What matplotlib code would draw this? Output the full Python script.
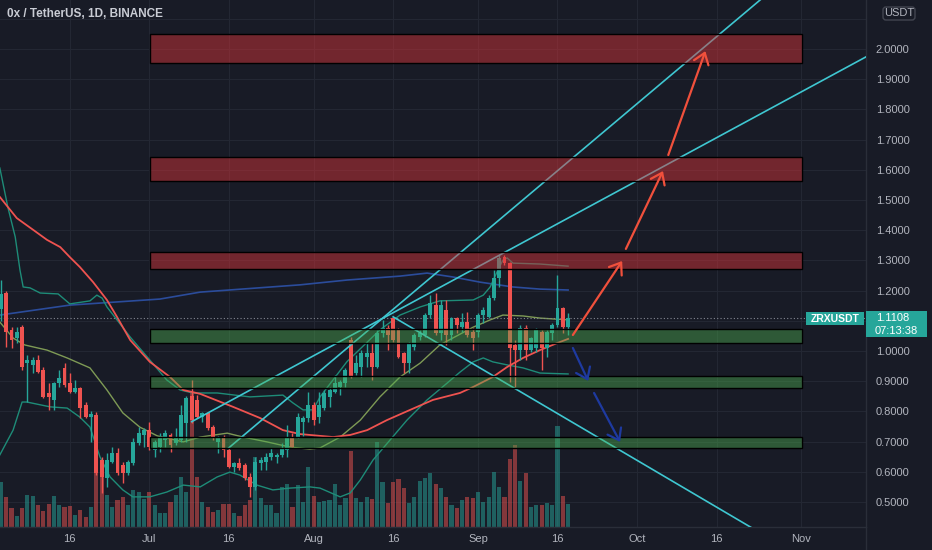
import matplotlib
matplotlib.use('Agg')
import matplotlib.pyplot as plt
from matplotlib.patches import Rectangle, FancyBboxPatch
from matplotlib.lines import Line2D
from matplotlib.transforms import IdentityTransform
import numpy as np

plt.rcParams['font.family'] = ['Liberation Sans', 'DejaVu Sans']

######## daily candles, day 0 = Jul 1 ########
days = np.arange(-28, 80)
opens = [1.140, 1.192, 1.070, 1.043, 1.080, 0.960, 0.954, 0.970, 0.937, 0.861,
         0.838, 0.894, 0.944, 0.894, 0.864, 0.877, 0.821, 0.780, 0.788, 0.639,
         0.579, 0.632, 0.662, 0.623, 0.596, 0.629, 0.695, 0.722, 0.738, 0.672,
         0.682, 0.705, 0.722, 0.695, 0.705, 0.762, 0.851, 0.838, 0.781, 0.795,
         0.748, 0.699, 0.715, 0.672, 0.616, 0.629, 0.623, 0.583, 0.550, 0.629,
         0.632, 0.649, 0.650, 0.656, 0.672, 0.715, 0.715, 0.765, 0.778, 0.821,
         0.781, 0.811, 0.848, 0.864, 0.881, 0.894, 1.035, 0.927, 0.947, 0.980,
         0.993, 0.947, 1.060, 1.076, 1.109, 1.070, 0.993, 0.960, 1.013, 1.046,
         1.053, 1.119, 1.152, 1.060, 1.136, 1.053, 1.109, 1.080, 1.096, 1.063,
         1.063, 1.119, 1.113, 1.175, 1.242, 1.311, 1.291, 1.020, 1.003, 1.076,
         1.003, 1.010, 1.063, 1.010, 1.060, 1.086, 1.142, 1.080]
highs = [1.235, 1.200, 1.080, 1.080, 1.086, 0.987, 0.980, 0.987, 0.947, 0.894,
         0.897, 0.937, 0.960, 0.927, 0.904, 0.881, 0.831, 0.800, 0.798, 0.649,
         0.662, 0.682, 0.679, 0.632, 0.639, 0.712, 0.748, 0.745, 0.765, 0.705,
         0.728, 0.738, 0.728, 0.745, 0.821, 0.851, 0.904, 0.854, 0.798, 0.798,
         0.755, 0.718, 0.722, 0.679, 0.632, 0.646, 0.629, 0.596, 0.649, 0.649,
         0.662, 0.679, 0.662, 0.695, 0.755, 0.728, 0.795, 0.785, 0.864, 0.831,
         0.864, 0.871, 0.881, 0.921, 0.904, 0.944, 1.046, 0.987, 1.003, 1.030,
         1.026, 1.070, 1.103, 1.086, 1.113, 1.076, 0.997, 1.030, 1.060, 1.070,
         1.126, 1.185, 1.192, 1.169, 1.169, 1.113, 1.113, 1.126, 1.129, 1.076,
         1.126, 1.146, 1.185, 1.268, 1.318, 1.318, 1.295, 1.036, 1.086, 1.086,
         1.046, 1.076, 1.070, 1.070, 1.093, 1.252, 1.146, 1.126]
lows = [1.100, 1.013, 1.010, 1.026, 0.937, 0.831, 0.927, 0.927, 0.844, 0.805,
        0.805, 0.881, 0.881, 0.861, 0.861, 0.778, 0.778, 0.700, 0.589, 0.530,
        0.550, 0.629, 0.589, 0.563, 0.589, 0.623, 0.689, 0.682, 0.672, 0.649,
        0.665, 0.682, 0.666, 0.689, 0.699, 0.699, 0.762, 0.778, 0.765, 0.738,
        0.705, 0.662, 0.649, 0.613, 0.599, 0.606, 0.573, 0.517, 0.540, 0.606,
        0.606, 0.639, 0.629, 0.649, 0.649, 0.679, 0.712, 0.718, 0.765, 0.755,
        0.762, 0.805, 0.815, 0.861, 0.854, 0.881, 0.910, 0.921, 0.914, 0.947,
        0.904, 0.944, 1.046, 1.003, 1.030, 0.977, 0.927, 0.927, 1.003, 1.036,
        1.046, 1.109, 1.053, 1.036, 1.020, 1.036, 1.060, 1.063, 1.046, 1.003,
        1.046, 1.093, 1.109, 1.169, 1.212, 1.285, 0.897, 0.881, 0.970, 0.970,
        0.997, 0.997, 0.937, 0.980, 1.036, 1.080, 1.060, 1.053]
closes = [1.190, 1.063, 1.036, 1.063, 0.947, 0.970, 0.970, 0.931, 0.848, 0.848,
          0.894, 0.911, 0.887, 0.864, 0.877, 0.811, 0.781, 0.790, 0.596, 0.583,
          0.639, 0.662, 0.596, 0.596, 0.632, 0.699, 0.728, 0.738, 0.682, 0.699,
          0.712, 0.728, 0.689, 0.715, 0.788, 0.844, 0.771, 0.781, 0.795, 0.745,
          0.712, 0.715, 0.672, 0.616, 0.629, 0.613, 0.579, 0.550, 0.632, 0.639,
          0.649, 0.662, 0.656, 0.679, 0.715, 0.682, 0.781, 0.778, 0.821, 0.771,
          0.821, 0.861, 0.871, 0.894, 0.897, 0.937, 0.917, 0.960, 0.993, 0.993,
          0.947, 1.060, 1.076, 1.053, 1.036, 0.980, 0.960, 1.026, 1.053, 1.060,
          1.119, 1.159, 1.060, 1.152, 1.053, 1.109, 1.086, 1.096, 1.053, 1.043,
          1.119, 1.136, 1.175, 1.242, 1.308, 1.291, 1.010, 1.003, 1.076, 1.003,
          1.043, 1.070, 1.010, 1.063, 1.086, 1.142, 1.080, 1.1108]
volume_m = [4.5, 3.0, 1.9, 1.1, 1.9, 3.2, 3.1, 2.2, 1.6, 2.3,
            3.1, 2.2, 2.0, 2.1, 1.2, 1.7, 1.0, 2.0, 5.4, 6.0,
            3.2, 2.0, 2.7, 3.0, 2.2, 3.7, 3.5, 2.8, 3.5, 2.2,
            1.4, 1.4, 2.5, 3.2, 5.0, 3.5, 13.4, 5.0, 2.5, 2.0,
            1.5, 1.7, 2.3, 2.3, 1.4, 1.1, 2.2, 2.7, 7.0, 2.9,
            2.2, 2.2, 1.4, 4.0, 4.3, 2.0, 4.2, 2.5, 6.0, 3.1,
            2.5, 2.6, 2.7, 4.3, 2.2, 2.9, 7.6, 2.9, 2.5, 3.0,
            2.8, 8.5, 4.5, 2.4, 4.5, 4.8, 3.9, 2.4, 3.0, 4.6,
            4.9, 5.4, 4.3, 3.9, 3.0, 2.2, 1.9, 2.7, 3.0, 2.9,
            3.5, 2.5, 3.0, 5.5, 4.0, 3.0, 6.8, 8.2, 4.6, 5.4,
            2.0, 2.2, 2.2, 2.4, 2.2, 10.1, 3.1, 2.3]

######## indicator lines (day, price) ########
ema_days = [-28.2, -25.0, -21.9, -19.3, -16.8, -15.0, -13.1, -10.6, -8.0, -6.1, -3.6, 0.1, 3.9, 6.4,
            9.6, 15.8, 20.9, 25.2, 28.4, 34.7, 37.9, 41.1, 44.8, 49.2, 53.5, 58.6, 61.1, 64.8,
            67.5, 70.5, 73.7, 76.9, 79.0]
ema_vals = [1.510, 1.440, 1.401, 1.368, 1.344, 1.311, 1.278, 1.228, 1.169, 1.113, 1.036, 0.964, 0.914, 0.871,
            0.858, 0.815, 0.778, 0.738, 0.725, 0.715, 0.722, 0.738, 0.771, 0.805, 0.838, 0.861, 0.881, 0.914,
            0.947, 0.977, 1.003, 1.026, 1.040]
ma200_days = [-28.2, -15.0, 2.0, 9.6, 28.4, 37.3, 47.3, 52.4, 57.3, 62.4, 68.6, 73.7, 79.0]
ma200_vals = [1.119, 1.152, 1.172, 1.195, 1.219, 1.235, 1.248, 1.258, 1.245, 1.228, 1.212, 1.205, 1.202]
bb_up_days = [-28.2, -26.7, -25.3, -24.4, -23.8, -22.5, -20.6, -17.2, -15.0, -11.2, -9.9, -8.9, -8.0, -6.1,
              -3.6, 0.1, 3.3, 5.8, 8.2, 12.8, 19.0, 25.2, 27.1, 29.0, 30.9, 32.2, 37.3, 43.5, 47.3, 51.1,
              54.8, 61.1, 63.0, 64.3, 65.6, 66.7, 67.5, 68.6, 73.7, 79.0]
bb_up_vals = [1.606, 1.477, 1.378, 1.268, 1.212, 1.209, 1.192, 1.189, 1.156, 1.166, 1.185, 1.175, 1.146, 1.103,
              1.046, 0.970, 0.904, 0.871, 0.861, 0.861, 0.848, 0.854, 0.828, 0.805, 0.805, 0.848, 0.965, 1.070,
              1.119, 1.146, 1.166, 1.169, 1.185, 1.212, 1.262, 1.301, 1.308, 1.291, 1.288, 1.281]
bb_mid_days = [-28.2, -25.7, -23.5, -19.3, -15.5, -11.2, -8.0, -5.0, -1.8, 1.5, 6.4, 9.6, 14.7, 17.7, 22.2,
               26.5, 30.3, 32.2, 36.0, 39.8, 43.5, 47.3, 51.1, 54.8, 61.1, 64.3, 66.7, 70.5, 73.7, 79.0]
bb_mid_vals = [1.096, 1.043, 1.020, 1.003, 0.977, 0.944, 0.871, 0.795, 0.748, 0.719, 0.699, 0.715, 0.728, 0.715,
               0.699, 0.682, 0.675, 0.679, 0.715, 0.771, 0.848, 0.914, 0.960, 1.020, 1.079, 1.103, 1.119, 1.116,
               1.109, 1.103]
bb_low_days = [-28.2, -25.7, -24.0, -23.1, -18.7, -15.5, -13.1, -11.2, -9.3, -7.4, -5.0, -3.1, 0.1, 3.3, 6.4,
               9.6, 12.8, 15.2, 17.1, 20.3, 23.3, 26.5, 30.3, 32.2, 36.0, 37.9, 39.8, 42.2, 45.4, 48.6, 52.4,
               56.2, 58.6, 61.1, 63.0, 64.8, 67.5, 70.5, 73.7, 79.0]
bb_low_vals = [0.656, 0.738, 0.831, 0.831, 0.815, 0.811, 0.781, 0.748, 0.649, 0.583, 0.540, 0.517, 0.517, 0.533,
               0.556, 0.550, 0.583, 0.599, 0.589, 0.556, 0.540, 0.546, 0.550, 0.546, 0.517, 0.530, 0.573, 0.639,
               0.705, 0.771, 0.838, 0.894, 0.930, 0.964, 0.977, 0.964, 0.954, 0.944, 0.927, 0.924]

######## drawings ########
trend_lines = [((14.9, 0.678), (125.0, 2.307)),
               ((8.0, 0.766), (135.2, 1.974)),
               ((46.0, 1.113), (135.2, 0.192))]
box_start, box_end = 0.1, 123.2
red_zones = [(1.954, 2.050), (1.563, 1.643), (1.272, 1.328)]
green_zones = [(1.026, 1.073), (0.878, 0.917), (0.679, 0.715)]
up_arrows = [((79.9, 1.053), (89.2, 1.298)),
             ((89.9, 1.338), (96.9, 1.596)),
             ((97.9, 1.649), (104.9, 1.993))]
down_arrows = [((79.9, 1.010), (82.8, 0.901)),
               ((83.9, 0.861), (88.8, 0.699))]

tick_days = [-15, 0, 15, 31, 46, 62, 77, 92, 107, 123]
tick_labels = ['16', 'Jul', '16', 'Aug', '16', 'Sep', '16', 'Oct', '16', 'Nov']
price_ticks = np.round(np.arange(0.5, 2.15, 0.1), 1)
hidden_ticks = [1.1, 2.1]   # covered by the price / currency labels

bg = '#181b26'
grid_c = '#232733'
axis_c = '#2a2e39'
text_c = '#b2b5be'
up_c = '#26a69a'
dn_c = '#ef5350'

fig = plt.figure(figsize=(9.32, 5.5), dpi=100, facecolor=bg)
ax = fig.add_axes([0, 23 / 550, 866 / 932, 527 / 550])
ax.set_facecolor(bg)
ax.set_xlim(-28.17, 135.2)
ax.set_ylim(0.4172, 2.1623)

# grid
ax.set_xticks(tick_days)
ax.set_xticklabels(tick_labels)
ax.set_yticks(price_ticks)
ax.set_yticklabels(['' if p in hidden_ticks else '{:.4f}'.format(p) for p in price_ticks])
ax.grid(True, color=grid_c, lw=0.8)
ax.set_axisbelow(True)
ax.yaxis.tick_right()
ax.tick_params(axis='y', length=0, pad=7, labelsize=8, labelcolor=text_c)
ax.tick_params(axis='x', length=0, pad=5, labelsize=8, labelcolor=text_c)
for s in ['top', 'left']:
    ax.spines[s].set_visible(False)
for s in ['right', 'bottom']:
    ax.spines[s].set_color(axis_c)
    ax.spines[s].set_linewidth(1)

colors = [up_c if c >= o else dn_c for o, c in zip(opens, closes)]

# volume at the bottom (axes fraction, max of the scale = 52.7)
vol_top = 52.7
ax.bar(days, np.array(volume_m) / vol_top, width=0.78, bottom=0, color=colors, alpha=0.5,
       transform=ax.get_xaxis_transform(), zorder=1)

# indicators
ax.plot(ma200_days, ma200_vals, color='#2b4c9b', lw=1.2, zorder=2)
ax.plot(bb_up_days, bb_up_vals, color='#1e8c78', lw=1.0, zorder=2)
ax.plot(bb_low_days, bb_low_vals, color='#1e8c78', lw=1.0, zorder=2)
ax.plot(bb_mid_days, bb_mid_vals, color='#7e9a55', lw=1.0, zorder=2)
ax.plot(ema_days, ema_vals, color='#ef5350', lw=1.3, zorder=2)

# candles
bodies = [max(abs(c - o), 0.002) for o, c in zip(opens, closes)]
ax.vlines(days, lows, highs, colors=colors, lw=1, zorder=3)
ax.bar(days, bodies, bottom=np.minimum(opens, closes), width=0.74, color=colors, zorder=3)

# last price dotted line
ax.axhline(closes[-1], color='#858893', lw=0.8, ls=(0, (1, 2)), zorder=2)

# trend lines
for (d0, p0), (d1, p1) in trend_lines:
    ax.plot([d0, d1], [p0, p1], color='#3fc7d1', lw=1.2, zorder=3.5)

# zones
for lo, hi in red_zones:
    ax.add_patch(Rectangle((box_start, lo), box_end - box_start, hi - lo,
                           facecolor=(0.85, 0.20, 0.22, 0.47), edgecolor='black', lw=1, zorder=4))
for lo, hi in green_zones:
    ax.add_patch(Rectangle((box_start, lo), box_end - box_start, hi - lo,
                           facecolor=(0.30, 0.69, 0.31, 0.42), edgecolor='black', lw=1, zorder=4))

# arrows
for tail, tip in up_arrows:
    ax.annotate('', xy=tip, xytext=tail, zorder=5,
                arrowprops=dict(arrowstyle='->,head_length=0.75,head_width=0.55', color='#f0503c',
                                lw=1.6, shrinkA=0, shrinkB=0, mutation_scale=10))
for tail, tip in down_arrows:
    ax.annotate('', xy=tip, xytext=tail, zorder=5,
                arrowprops=dict(arrowstyle='->,head_length=0.75,head_width=0.55', color='#1e3aa0',
                                lw=1.6, shrinkA=0, shrinkB=0, mutation_scale=10))

# title
fig.text(7 / 932, 1 - 14 / 550, '0x / TetherUS, 1D, BINANCE', fontsize=8.5, fontweight='bold',
         color='#c9ccd4', ha='left', va='center')

# labels on the price scale (pixel coords)
ident = IdentityTransform()
yd = ax.transData.transform((0, closes[-1]))[1]
fig.patches.append(Rectangle((806, yd - 7.5), 58, 13, facecolor=up_c, edgecolor='none',
                             transform=ident, figure=fig, zorder=10))
fig.text(835, yd - 1, 'ZRXUSDT', transform=ident, fontsize=7.5, fontweight='bold', color='white',
         ha='center', va='center', zorder=11)
fig.patches.append(Rectangle((866, yd - 19.5), 61, 26, facecolor=up_c, edgecolor='none',
                             transform=ident, figure=fig, zorder=10))
fig.text(876, yd - 0.5, '{:.4f}'.format(closes[-1]), transform=ident, fontsize=8, color='white',
         ha='left', va='center', zorder=11)
fig.text(875, yd - 13.5, '07:13:38', transform=ident, fontsize=8, color='white',
         ha='left', va='center', zorder=11)

fig.patches.append(FancyBboxPatch((883, 530), 32, 13, boxstyle='round,pad=0,rounding_size=3',
                                  facecolor=bg, edgecolor='#434651', lw=1, transform=ident,
                                  figure=fig, zorder=10))
fig.text(899, 536.5, 'USDT', transform=ident, fontsize=8, color=text_c, ha='center', va='center',
         zorder=11)
fig.lines.append(Line2D([866, 866], [0, 23], color=axis_c, lw=1, transform=ident, figure=fig))

fig.savefig('out.png', dpi=100, facecolor=bg)
